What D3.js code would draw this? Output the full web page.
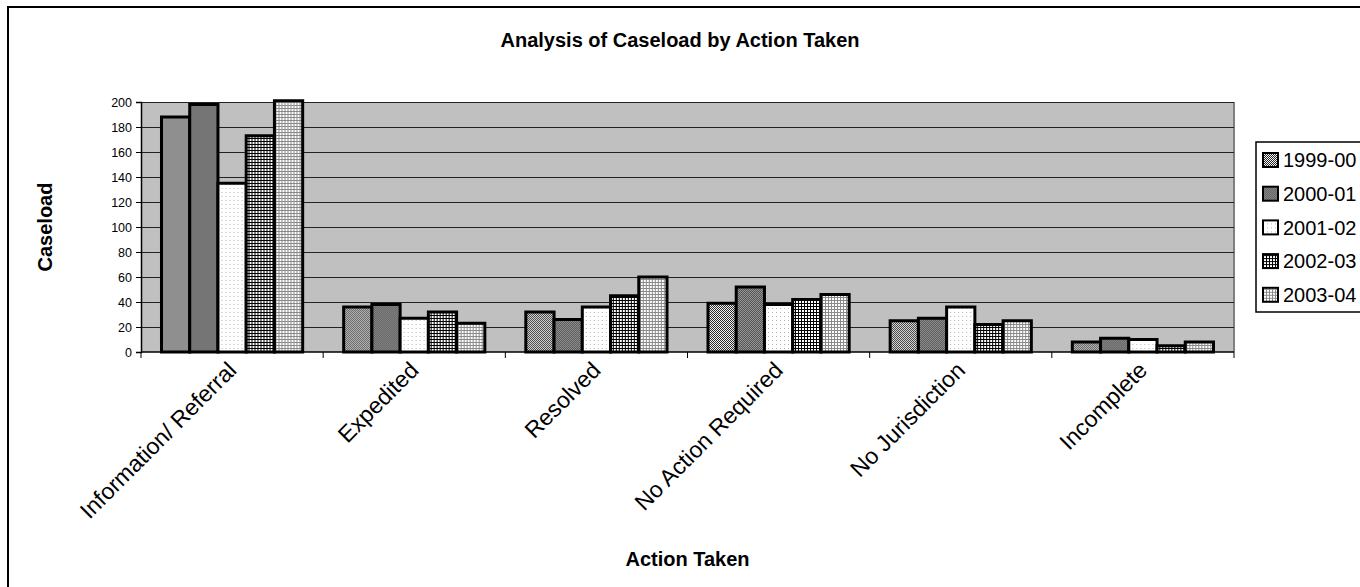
<!DOCTYPE html>
<html><head><meta charset="utf-8">
<script src="https://cdn.jsdelivr.net/npm/d3@7"></script>
<style>
body{margin:0;background:#fff;overflow:hidden}
svg{display:block}
text{font-family:Arial,"Liberation Sans",sans-serif;fill:#000}
</style></head>
<body><svg id="c" width="1360" height="587"></svg>
<script>
const categories = ["Information/ Referral","Expedited","Resolved","No Action Required","No Jurisdiction","Incomplete"];
const seriesNames = ["1999-00","2000-01","2001-02","2002-03","2003-04"];
const s1999 = [188, 36, 32, 39, 25, 8];
const s2000 = [198, 38, 26, 52, 27, 11];
const s2001 = [135, 27, 36, 38, 36, 10];
const s2002 = [173, 32, 45, 42, 22, 5];
const s2003 = [201, 23, 60, 46, 25, 8];
const yTicks = [0,20,40,60,80,100,120,140,160,180,200];

const seriesValues = [s1999, s2000, s2001, s2002, s2003];
const svg = d3.select("#c");
const M = {left:141, right:1234, top:102, bottom:352};

// patterns
const defs = svg.append("defs");
function pat(id, size, bg, cells){
  const p = defs.append("pattern").attr("id",id).attr("patternUnits","userSpaceOnUse")
    .attr("width",size).attr("height",size);
  p.append("rect").attr("width",size).attr("height",size).attr("fill",bg).attr("shape-rendering","crispEdges");
  cells.forEach(c=>p.append("rect").attr("x",c[0]).attr("y",c[1]).attr("width",c[2]||1).attr("height",c[3]||1)
    .attr("fill",c[4]||"#000").attr("shape-rendering","crispEdges"));
}
pat("p0",2,"#f4f4f4",[[0,0,1,1,"#2a2a2a"],[1,1,1,1,"#2a2a2a"]]);
pat("p1",2,"#555",[[0,0,1,1,"#959595"],[1,1,1,1,"#959595"]]);
pat("p2",4,"#fff",[[0,0,1,1,"#b4b4b4"]]);
pat("p3",3,"#fff",[[0,0,3,1],[0,0,1,3]]);
pat("p4",3,"#fff",[[0,0,3,1,"#8a8a8a"],[0,0,1,3,"#8a8a8a"]]);
const fills = ["url(#p0)","url(#p1)","url(#p2)","url(#p3)","url(#p4)"];

// chart area border
svg.append("rect").attr("x",8).attr("y",7).attr("width",1500).attr("height",700)
  .attr("fill","#fff").attr("stroke","#000").attr("stroke-width",2);

const x0 = d3.scaleBand().domain(categories).range([M.left, M.right]).paddingInner(0.225).paddingOuter(0.1125);
const x1 = d3.scaleBand().domain(seriesNames).range([0, x0.bandwidth()]);
const y = d3.scaleLinear().domain([0,200]).range([M.bottom, M.top]);

// plot background
svg.append("rect").attr("x",M.left).attr("y",M.top).attr("width",M.right-M.left).attr("height",M.bottom-M.top)
  .attr("fill","#c0c0c0");
svg.append("line").attr("x1",M.right).attr("x2",M.right).attr("y1",M.top).attr("y2",M.bottom)
  .attr("stroke","#808080").attr("stroke-width",2);

// gridlines
svg.append("g").selectAll("line").data(yTicks.filter(d=>d>0)).join("line")
  .attr("x1",M.left).attr("x2",M.right).attr("y1",d=>Math.round(y(d))+0.5).attr("y2",d=>Math.round(y(d))+0.5)
  .attr("stroke","#222").attr("stroke-width",1);

// bars
const groups = svg.append("g").selectAll("g").data(categories).join("g")
  .attr("transform",c=>`translate(${x0(c)},0)`);
groups.selectAll("rect").data((c,ci)=>seriesNames.map((s,si)=>({s,si,v:seriesValues[si][ci]}))).join("rect")
  .attr("x",d=>x1(d.s)).attr("width",x1.bandwidth())
  .attr("y",d=>y(d.v)).attr("height",d=>y(0)-y(d.v))
  .attr("fill",d=>fills[d.si]).attr("stroke","#000").attr("stroke-width",3);

// y axis
const yAxis = d3.axisLeft(y).tickValues(yTicks).tickSize(5).tickPadding(4);
const ya = svg.append("g").attr("transform",`translate(${M.left},0)`).call(yAxis);
ya.select(".domain").attr("stroke","#000").attr("stroke-width",1.5);
ya.selectAll(".tick line").attr("stroke","#000");
ya.selectAll(".tick text").style("font-size","12.5px").style("font-family","Arial,'Liberation Sans',sans-serif");

// x axis baseline and ticks between categories
const xb = [M.left, ...categories.map(c=>x0(c)+x0.bandwidth()+x0.step()*x0.paddingInner()/2).slice(0,-1), M.right];
svg.append("line").attr("x1",M.left).attr("x2",M.right).attr("y1",M.bottom).attr("y2",M.bottom)
  .attr("stroke","#000").attr("stroke-width",1.5);
svg.append("g").selectAll("line").data(xb).join("line")
  .attr("x1",d=>d).attr("x2",d=>d).attr("y1",M.bottom).attr("y2",M.bottom+6).attr("stroke","#000");

// x labels
svg.append("g").selectAll("text").data(categories).join("text")
  .attr("transform",c=>`translate(${x0(c)+x0.bandwidth()/2},${M.bottom+14}) rotate(-45)`)
  .attr("text-anchor","end").attr("dy","0.35em").style("font-size","23px").text(c=>c);

// titles
svg.append("text").attr("x",680).attr("y",47).attr("text-anchor","middle")
  .style("font-size","20px").style("font-weight","bold").text("Analysis of Caseload by Action Taken");
svg.append("text").attr("transform",`translate(52,${(M.top+M.bottom)/2}) rotate(-90)`).attr("text-anchor","middle")
  .style("font-size","20px").style("font-weight","bold").text("Caseload");
svg.append("text").attr("x",(M.left+M.right)/2).attr("y",566).attr("text-anchor","middle")
  .style("font-size","20px").style("font-weight","bold").text("Action Taken");

// legend
const lg = svg.append("g");
lg.append("rect").attr("x",1256).attr("y",142).attr("width",200).attr("height",170)
  .attr("fill","#fff").attr("stroke","#000").attr("stroke-width",1.5);
const li = lg.selectAll("g").data(seriesNames).join("g")
  .attr("transform",(d,i)=>`translate(1263,${160+i*33.7})`);
li.append("rect").attr("x",0).attr("y",-7).attr("width",15).attr("height",14)
  .attr("fill",(d,i)=>fills[i]).attr("stroke","#000").attr("stroke-width",2);
li.append("text").attr("x",20).attr("dy","0.36em").style("font-size","20px").text(d=>d);
</script></body></html>
